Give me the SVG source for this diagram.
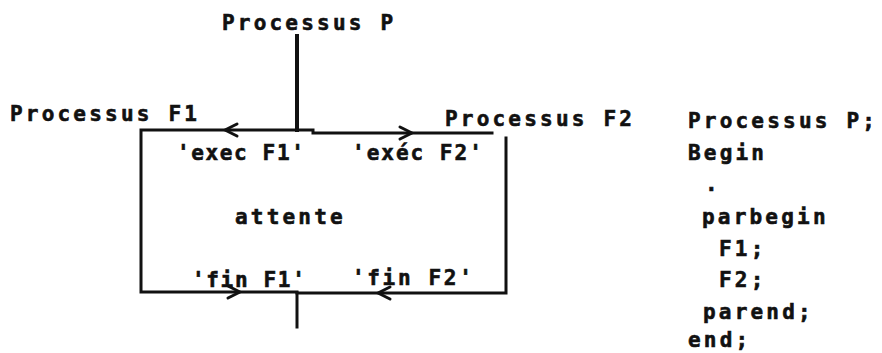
<svg xmlns="http://www.w3.org/2000/svg" width="882" height="353" viewBox="0 0 882 353">
<style>
text{font-family:"DejaVu Sans Mono","Liberation Mono",monospace;font-weight:bold;font-size:21px;letter-spacing:3.2px;fill:#111;stroke:#111;stroke-width:0.6px}
.ln{fill:none;stroke:#111;stroke-width:3;stroke-linecap:square}
.ah{fill:none;stroke:#111;stroke-width:3;stroke-linecap:round;stroke-linejoin:round}
</style>
<defs>
<path id="arr" class="ah" d="M12,-6 L0,0 L12,6"/>
</defs>
<rect width="882" height="353" fill="#fff"/>
<g id="connectors">
<path class="ln" d="M297,36 V130" style="stroke-width:4"/>
<path class="ln" d="M297,130 H141 V292 H297"/>
<path class="ln" d="M297,130 H313 V133 H492"/>
<path class="ln" d="M506,138 V293 H297"/>
<path class="ln" d="M297,293 V327"/>
<use href="#arr" transform="translate(225,130)"/>
<use href="#arr" transform="translate(412,133) rotate(180)"/>
<use href="#arr" transform="translate(240,292) rotate(180)"/>
<use href="#arr" transform="translate(378,293)"/>
</g>
<g id="node-P"><text x="222" y="30">Processus P</text></g>
<g id="node-F1"><text x="10" y="121">Processus F1</text></g>
<g id="node-F2"><text x="445" y="126">Processus F2</text></g>
<g id="node-attente">
<text x="235" y="224">attente</text>
</g>
<g id="labels">
<text x="177" y="160" textLength="130">'exec F1'</text>
<text x="352" y="160" textLength="133">'exéc F2'</text>
<text x="192" y="287" textLength="116">'fin F1'</text>
<text x="352" y="285" textLength="123">'fin F2'</text>
</g>
<g id="code">
<text x="688" y="128">Processus P;</text>
<text x="688" y="160">Begin</text>
<text x="705" y="191">.</text>
<text x="702" y="224">parbegin</text>
<text x="719" y="256">F1;</text>
<text x="719" y="287">F2;</text>
<text x="703" y="319">parend;</text>
<text x="688" y="347">end;</text>
</g>
</svg>
